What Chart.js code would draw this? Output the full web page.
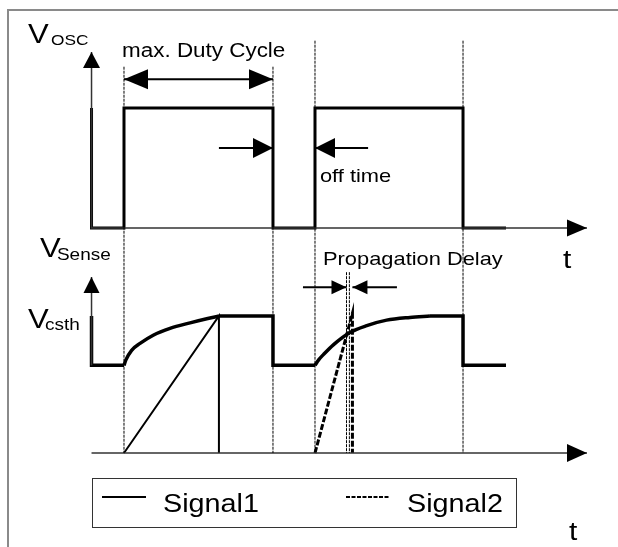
<!DOCTYPE html>
<html>
<head>
<meta charset="utf-8">
<script src="https://cdn.jsdelivr.net/npm/chart.js@4.4.0/dist/chart.umd.min.js"></script>
<style>
  html, body { margin: 0; padding: 0; background: #fff; }
  #wrap { width: 618px; height: 547px; }
</style>
</head>
<body>
<div id="wrap"><canvas id="myChart" width="618" height="547"></canvas></div>
<script>
// time unit: one oscillator period = 10, rising edges at t = 0 and t = 10
const oscTime  = [-1.7, -1.7, 0, 0, 7.8, 7.8, 10, 10, 17.75, 17.75, 20];
const oscLevel = [1, 0, 0, 1, 1, 0, 0, 1, 1, 0, 0];

// Vsense, Signal1 (Vcsth = 1)
const senseLeftTime   = [-1.7, -1.7, 0];
const senseLeftLevel  = [1, 0.64, 0.64];
const curve1Time      = [0, 0.1, 0.4, 0.84, 1.53, 2.41, 3.46, 4.33, 4.97];
const curve1Level     = [0.64, 0.68, 0.75, 0.8, 0.86, 0.91, 0.95, 0.98, 1];
const senseMidTime    = [4.97, 7.8, 7.8, 10];
const senseMidLevel   = [1, 1, 0.64, 0.64];
const curve2Time      = [10, 10.19, 10.45, 10.96, 11.83, 12.71, 13.75, 14.97, 16.02];
const curve2Level     = [0.64, 0.68, 0.72, 0.79, 0.88, 0.93, 0.97, 0.99, 1];
const senseRightTime  = [16.02, 17.75, 17.75, 20];
const senseRightLevel = [1, 1, 0.64, 0.64];
const ramp1Time  = [0, 4.97, 4.97];
const ramp1Level = [0, 1, 0];

// Signal2
const ramp2Time  = [10, 11.96, 11.96];
const ramp2Level = [0, 1.02, 0];

// guide lines
const edgeTimes  = [0, 7.8, 10, 17.75];
const edgeTops   = [2.82, 2.82, 3.01, 3.01];
const delayTimes = [11.65, 11.8];
const delayTop   = 1.32;

// dimension arrows
const dutyArrowTime  = [0, 7.8];
const dutyArrowLevel = 1.24;
const onArrowTime    = [4.97, 7.8];
const offArrowTime   = [12.78, 10];
const offArrowLevel  = 0.667;
const delayInTime    = [9.37, 11.65];
const delayOutTime   = [14.29, 11.96];
const delayArrowLevel = 1.21;

const axisStart = -1.7;
const axisEnd = 24.24;
const oscAxisTop = 1.467;
const senseAxisTop = 1.285;

const labelTexts = ['max. Duty Cycle', 'off time', 'Propagation Delay', 't', 't'];
const axisNames = [['V', 'OSC'], ['V', 'Sense'], ['V', 'csth']];
const seriesNames = ['Signal1', 'Signal2'];

function pts(ts, vs) {
  return ts.map((t, i) => ({ x: t, y: Array.isArray(vs) ? vs[i] : vs }));
}

function line(data, axis, opts) {
  return Object.assign({
    data: data, yAxisID: axis, showLine: true, pointRadius: 0,
    borderColor: '#000', borderWidth: 3, fill: false,
    borderJoinStyle: 'miter', borderCapStyle: 'butt'
  }, opts || {});
}

const guide = { borderColor: '#000', borderWidth: 1, borderDash: [3, 1] };
const sig1 = { borderWidth: 3.5 };

const datasets = [];
edgeTimes.forEach((t, i) => datasets.push(line(pts([t, t], [edgeTops[i], 0]), 'ySense', guide)));
delayTimes.forEach(t => datasets.push(line(pts([t, t], [delayTop, 0]), 'ySense', guide)));

// axes
datasets.push(line(pts([axisStart, axisStart, axisEnd], [oscAxisTop, 0, 0]), 'yOsc',
  { borderColor: '#333', borderWidth: 1.5, heads: { start: [16, 8.5], end: [20, 8.5] } }));
datasets.push(line(pts([axisStart, axisStart], [0.64, senseAxisTop]), 'ySense',
  { borderColor: '#333', borderWidth: 1.5, heads: { end: [16, 8] } }));
datasets.push(line(pts([axisStart, axisEnd], [0, 0]), 'ySense',
  { borderColor: '#333', borderWidth: 1.5, heads: { end: [20, 9] } }));

// oscillator
datasets.push(line(pts(oscTime, oscLevel), 'yOsc'));

// sense signal1
datasets.push(line(pts(senseLeftTime, senseLeftLevel), 'ySense', sig1));
datasets.push(line(pts(curve1Time, curve1Level), 'ySense', Object.assign({ cubicInterpolationMode: 'monotone' }, sig1)));
datasets.push(line(pts(senseMidTime, senseMidLevel), 'ySense', sig1));
datasets.push(line(pts(curve2Time, curve2Level), 'ySense', Object.assign({ cubicInterpolationMode: 'monotone' }, sig1)));
datasets.push(line(pts(senseRightTime, senseRightLevel), 'ySense', sig1));
datasets.push(line(pts(ramp1Time, ramp1Level), 'ySense', { borderWidth: 2, label: seriesNames[0] }));
datasets.push(line(pts(ramp2Time, ramp2Level), 'ySense', { borderWidth: 3, borderDash: [6, 2], label: seriesNames[1] }));

// dimension arrows
datasets.push(line(pts(dutyArrowTime, dutyArrowLevel), 'yOsc', { borderWidth: 2, heads: { start: [24, 10], end: [24, 10] } }));
datasets.push(line(pts(onArrowTime, offArrowLevel), 'yOsc', { borderWidth: 2, heads: { end: [20, 10] } }));
datasets.push(line(pts(offArrowTime, offArrowLevel), 'yOsc', { borderWidth: 2, heads: { end: [20, 10] } }));
datasets.push(line(pts(delayInTime, delayArrowLevel), 'ySense', { borderWidth: 2, heads: { end: [15, 7] } }));
datasets.push(line(pts(delayOutTime, delayArrowLevel), 'ySense', { borderWidth: 2, heads: { end: [15, 7] } }));

const FONT = '"Liberation Sans", Arial, sans-serif';
const STRETCH = 1.15;

function drawText(ctx, text, x, y, size) {
  ctx.save();
  ctx.font = size + 'px ' + FONT;
  ctx.fillStyle = '#000';
  ctx.textBaseline = 'alphabetic';
  ctx.translate(x, y);
  ctx.scale(STRETCH, 1);
  ctx.fillText(text, 0, 0);
  ctx.restore();
}

function head(ctx, from, tip, len, half) {
  const a = Math.atan2(tip.y - from.y, tip.x - from.x);
  ctx.save();
  ctx.translate(tip.x, tip.y);
  ctx.rotate(a);
  ctx.beginPath();
  ctx.moveTo(0, 0);
  ctx.lineTo(-len, -half);
  ctx.lineTo(-len, half);
  ctx.closePath();
  ctx.fillStyle = '#000';
  ctx.fill();
  ctx.restore();
}

// label anchors in data units: [axis, time, level, font size]
const labelPlaces = [
  ['yOsc', -0.1, 1.425, 19.5],
  ['yOsc', 10.26, 0.383, 19],
  ['ySense', 10.42, 1.372, 19],
  ['ySense', 22.98, 1.35, 26],
  ['ySense', 23.3, -0.635, 26]
];
const namePlaces = [
  ['yOsc', -5.03, 1.542, -3.82, 1.525, 15],
  ['ySense', -4.4, 1.431, -3.51, 1.409, 16.5],
  ['ySense', -5.03, 0.912, -4.14, 0.898, 16.5]
];

const diagramPlugin = {
  id: 'diagram',
  beforeDraw(chart) {
    const ctx = chart.ctx;
    ctx.save();
    ctx.fillStyle = '#fff';
    ctx.fillRect(0, 0, chart.width, chart.height);
    ctx.strokeStyle = '#8a8a8a';
    ctx.lineWidth = 2;
    ctx.beginPath();
    ctx.moveTo(8, chart.height);
    ctx.lineTo(8, 10);
    ctx.lineTo(chart.width, 10);
    ctx.stroke();
    ctx.restore();
  },
  afterDatasetsDraw(chart) {
    const ctx = chart.ctx;
    const x = chart.scales.x;
    chart.data.datasets.forEach((ds, i) => {
      if (!ds.heads) return;
      const p = chart.getDatasetMeta(i).data;
      const n = p.length;
      if (ds.heads.start) head(ctx, p[1], p[0], ds.heads.start[0], ds.heads.start[1]);
      if (ds.heads.end) head(ctx, p[n - 2], p[n - 1], ds.heads.end[0], ds.heads.end[1]);
    });

    labelTexts.forEach((txt, i) => {
      const [axis, t, v, size] = labelPlaces[i];
      drawText(ctx, txt, x.getPixelForValue(t), chart.scales[axis].getPixelForValue(v), size);
    });
    axisNames.forEach((nm, i) => {
      const [axis, t1, v1, t2, v2, sub] = namePlaces[i];
      const y = chart.scales[axis];
      drawText(ctx, nm[0], x.getPixelForValue(t1), y.getPixelForValue(v1), 27);
      drawText(ctx, nm[1], x.getPixelForValue(t2), y.getPixelForValue(v2), sub);
    });

    // legend box built from the two signal datasets
    const items = chart.data.datasets.filter(d => d.label);
    ctx.save();
    ctx.strokeStyle = '#333';
    ctx.lineWidth = 1;
    ctx.strokeRect(92.5, 478.5, 424, 49);
    const lx = [102, 346];
    items.forEach((d, i) => {
      ctx.save();
      ctx.strokeStyle = d.borderColor;
      ctx.lineWidth = 2;
      ctx.setLineDash(d.borderDash ? [4, 1.5] : []);
      ctx.beginPath();
      ctx.moveTo(lx[i], 497);
      ctx.lineTo(lx[i] + 44, 497);
      ctx.stroke();
      ctx.restore();
      drawText(ctx, d.label, lx[i] + 61, 512, 25);
    });
    ctx.restore();
  }
};

const ctx = document.getElementById('myChart').getContext('2d');
const chart = new Chart(ctx, {
  type: 'scatter',
  data: { datasets: datasets },
  options: {
    responsive: false,
    animation: false,
    events: [],
    layout: { padding: 0 },
    plugins: { legend: { display: false }, tooltip: { enabled: false } },
    scales: {
      x: { type: 'linear', display: false, min: -6.492, max: 25.864 },
      yOsc: { type: 'linear', display: false, min: -2.658, max: 1.9 },
      ySense: { type: 'linear', display: false, min: -0.686, max: 3.307 }
    }
  },
  plugins: [diagramPlugin]
});
</script>
</body>
</html>
